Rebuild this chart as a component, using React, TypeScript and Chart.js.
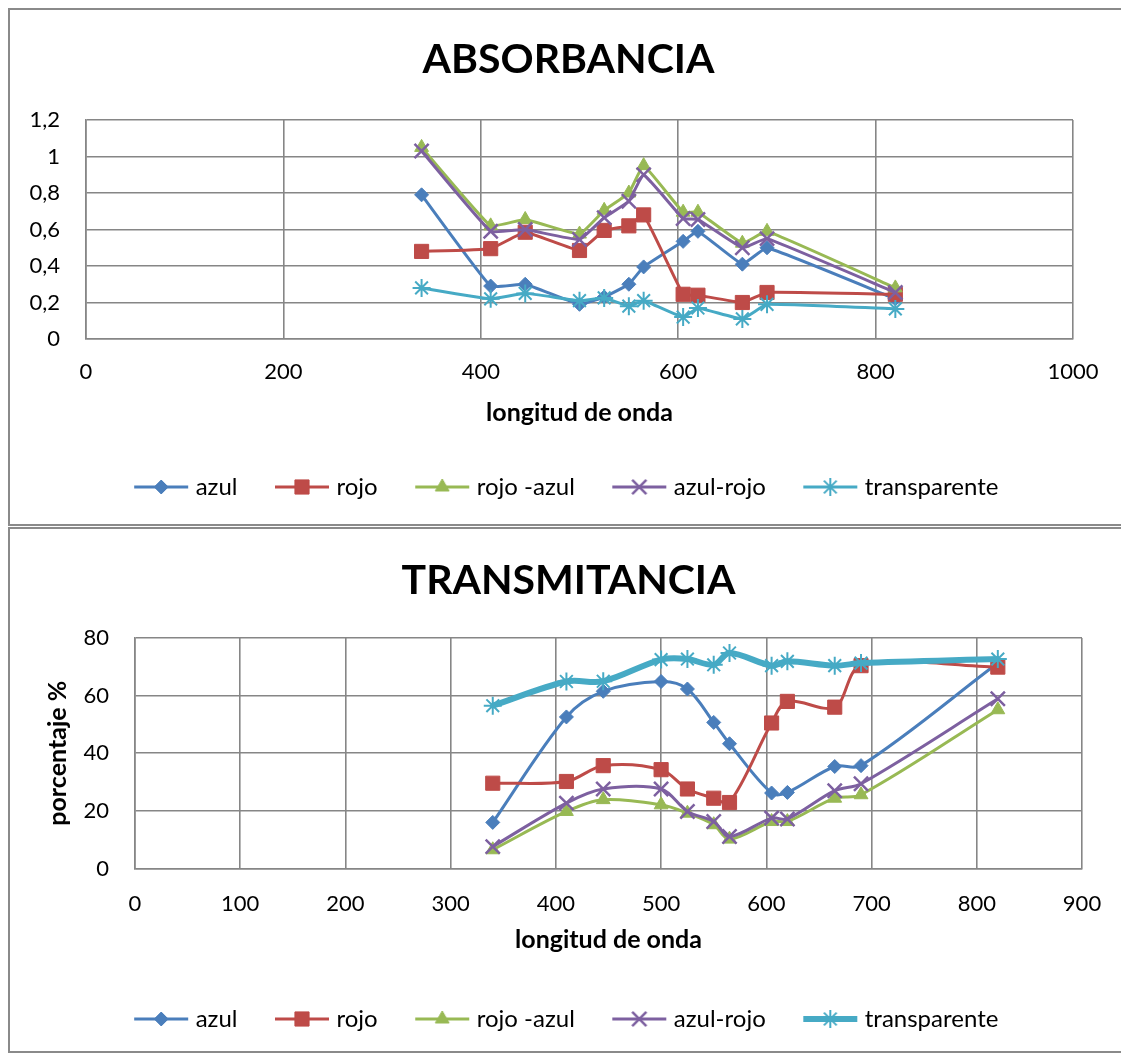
import React, { useEffect, useRef } from "react";
import { Chart, registerables } from "chart.js";

Chart.register(...registerables);

// ---------- DATA ----------
const wavelengths = [340, 410, 445, 500, 525, 550, 565, 605, 620, 665, 690, 820];
const seriesNames = ["azul", "rojo", "rojo -azul", "azul-rojo", "transparente"];

const absAzul = [0.79, 0.29, 0.3, 0.19, 0.23, 0.3, 0.395, 0.535, 0.59, 0.41, 0.5, 0.22];
const absRojo = [0.48, 0.495, 0.585, 0.485, 0.595, 0.62, 0.68, 0.245, 0.24, 0.2, 0.255, 0.245];
const absRojoAzul = [1.05, 0.62, 0.655, 0.575, 0.705, 0.8, 0.95, 0.695, 0.695, 0.525, 0.59, 0.28];
const absAzulRojo = [1.03, 0.59, 0.6, 0.545, 0.665, 0.755, 0.9, 0.66, 0.655, 0.5, 0.55, 0.255];
const absTransparente = [0.28, 0.22, 0.25, 0.21, 0.225, 0.18, 0.21, 0.12, 0.17, 0.11, 0.19, 0.165];

const trAzul = [16, 52.6, 61.5, 64.9, 62.3, 50.7, 43.3, 26.2, 26.4, 35.4, 35.7, 71.3];
const trRojo = [29.6, 30.2, 35.7, 34.3, 27.6, 24.4, 22.9, 50.5, 58, 56, 70.4, 69.9];
const trRojoAzul = [6.5, 19.8, 23.9, 22.1, 19.2, 15.2, 10.2, 16.3, 16.3, 24.4, 25.6, 55.1];
const trAzulRojo = [7.6, 22.7, 27.6, 27.6, 19.8, 16.3, 11.1, 17.5, 17.2, 27, 29.4, 58.9];
const trTransparente = [56.5, 64.9, 65, 72.5, 72.7, 70.7, 74.8, 70.4, 71.9, 70.4, 71.3, 72.7];

const absYTickLabels = ["0", "0,2", "0,4", "0,6", "0,8", "1", "1,2"];
const absXTickLabels = ["0", "200", "400", "600", "800", "1000"];
const trYTickLabels = ["0", "20", "40", "60", "80"];
const trXTickLabels = ["0", "100", "200", "300", "400", "500", "600", "700", "800", "900"];

// ---------- STYLE ----------
const FONT = "Lato";
const colors = ["#4A7EBB", "#BE4B48", "#98B954", "#7D60A0", "#46AAC5"];
const pointStyles = ["rectRot", "rect", "triangle", "crossRot", "star"];
const pointRadii = [7, 10, 8, 10, 9];
const pointBorders = [1, 1, 1, 2.5, 2];
const GRID = "#868686";

function drawMarker(ctx: CanvasRenderingContext2D, style: string, x: number, y: number, r: number, bw: number) {
  ctx.lineWidth = bw;
  ctx.beginPath();
  if (style === "rectRot") {
    ctx.moveTo(x, y - r); ctx.lineTo(x + r, y); ctx.lineTo(x, y + r); ctx.lineTo(x - r, y); ctx.closePath();
    ctx.fill(); ctx.stroke();
  } else if (style === "rect") {
    const s = r * Math.SQRT1_2;
    ctx.rect(x - s, y - s, 2 * s, 2 * s); ctx.fill(); ctx.stroke();
  } else if (style === "triangle") {
    for (let k = 0; k < 3; k++) {
      const a = (k * 2 * Math.PI) / 3;
      const px = x + Math.sin(a) * r, py = y - Math.cos(a) * r;
      if (k === 0) ctx.moveTo(px, py); else ctx.lineTo(px, py);
    }
    ctx.closePath(); ctx.fill(); ctx.stroke();
  } else if (style === "crossRot") {
    const o = r * Math.SQRT1_2;
    ctx.moveTo(x - o, y - o); ctx.lineTo(x + o, y + o);
    ctx.moveTo(x - o, y + o); ctx.lineTo(x + o, y - o); ctx.stroke();
  } else if (style === "star") {
    const o = r * Math.SQRT1_2;
    ctx.moveTo(x - o, y - o); ctx.lineTo(x + o, y + o);
    ctx.moveTo(x - o, y + o); ctx.lineTo(x + o, y - o);
    ctx.moveTo(x, y - r); ctx.lineTo(x, y + r);
    ctx.moveTo(x - r, y); ctx.lineTo(x + r, y); ctx.stroke();
  }
}

function legendImage(i: number, lineW: number) {
  const c = document.createElement("canvas");
  c.width = 56; c.height = 24;
  const ctx = c.getContext("2d")!;
  ctx.strokeStyle = colors[i]; ctx.fillStyle = colors[i];
  ctx.lineWidth = lineW;
  ctx.beginPath(); ctx.moveTo(1, 12); ctx.lineTo(55, 12); ctx.stroke();
  drawMarker(ctx, pointStyles[i], 28, 12, pointRadii[i], pointBorders[i]);
  return c;
}

type Cfg = {
  title: string;
  series: number[][];
  lineWidths: number[];
  tension: number;
  xMax: number; xStep: number; xLabels: string[];
  yMax: number; yStep: number; yLabels: string[];
  yTitle?: string;
  yAxisWidth: number; yTitlePad: number;
  titlePadTop: number; titlePadBottom: number;
  xTickPad: number; xAxisHeight: number; xTitlePadBottom: number;
  legendPad: number; padRight: number; padBottom: number;
};

function buildConfig(c: Cfg): any {
  const legendImgs = c.series.map((_, i) => legendImage(i, c.lineWidths[i]));
  return {
    type: "line",
    data: {
      datasets: c.series.map((vals, i) => ({
        label: seriesNames[i],
        data: wavelengths.map((x, k) => ({ x, y: vals[k] })),
        borderColor: colors[i],
        backgroundColor: colors[i],
        borderWidth: c.lineWidths[i],
        pointStyle: pointStyles[i],
        pointRadius: pointRadii[i],
        pointHoverRadius: pointRadii[i],
        pointBorderWidth: pointBorders[i],
        pointBackgroundColor: colors[i],
        pointBorderColor: colors[i],
        tension: c.tension,
        fill: false,
        order: c.series.length - i,
        yAxisID: "y",
      })),
    },
    options: {
      responsive: false,
      animation: false,
      events: [],
      layout: { padding: { top: 0, left: 0, right: 0, bottom: c.padBottom } },
      plugins: {
        tooltip: { enabled: false },
        title: {
          display: true,
          text: c.title,
          color: "#000",
          font: { family: FONT, size: 41, weight: "bold", lineHeight: 1.2 },
          padding: { top: c.titlePadTop, bottom: c.titlePadBottom },
        },
        legend: {
          display: true,
          position: "bottom",
          labels: {
            color: "#000",
            font: { family: FONT, size: 24 },
            usePointStyle: true,
            pointStyleWidth: 45,
            padding: c.legendPad,
            sort: (a: any, b: any) => a.datasetIndex - b.datasetIndex,
            generateLabels: (chart: any) => {
              const items = Chart.defaults.plugins.legend.labels.generateLabels(chart);
              items.forEach((it: any) => { it.pointStyle = legendImgs[it.datasetIndex]; });
              return items;
            },
          },
        },
      },
      scales: {
        x: {
          type: "linear",
          min: 0,
          max: c.xMax,
          ticks: {
            stepSize: c.xStep,
            color: "#000",
            font: { family: FONT, size: 22 },
            padding: c.xTickPad,
            maxRotation: 0,
            autoSkip: false,
            callback: (_v: any, idx: number) => c.xLabels[idx],
          },
          grid: { color: GRID, lineWidth: 1.6, drawTicks: false },
          border: { color: GRID, width: 1.6 },
          title: {
            display: true,
            text: "longitud de onda",
            color: "#000",
            font: { family: FONT, size: 25, weight: "bold", lineHeight: 1.2 },
            padding: { top: 0, bottom: c.xTitlePadBottom },
          },
          afterFit: (s: any) => { s.height = c.xAxisHeight; },
        },
        y: {
          min: 0,
          max: c.yMax,
          ticks: {
            stepSize: c.yStep,
            color: "#000",
            font: { family: FONT, size: 22 },
            padding: 26,
            callback: (_v: any, idx: number) => c.yLabels[idx],
          },
          grid: { color: GRID, lineWidth: 1.6, drawTicks: false },
          border: { color: GRID, width: 1.6 },
          title: c.yTitle
            ? {
                display: true,
                text: c.yTitle,
                color: "#000",
                font: { family: FONT, size: 25, weight: "bold", lineHeight: 1.2 },
                padding: { top: c.yTitlePad, bottom: 0 },
              }
            : { display: false },
          afterFit: (s: any) => { s.width = c.yAxisWidth; },
        },
        yRightSpace: {
          position: "right",
          display: true,
          grid: { display: false, drawTicks: false },
          border: { display: false },
          ticks: { display: false },
          afterFit: (s: any) => { s.width = c.padRight; },
        },
      },
    },
  };
}

function ChartBox({ cfg, width, height, boxHeight, top }: { cfg: Cfg; width: number; height: number; boxHeight: number; top: number }) {
  const ref = useRef<HTMLCanvasElement | null>(null);
  useEffect(() => {
    if (!ref.current) return;
    const chart = new Chart(ref.current, buildConfig(cfg));
    return () => chart.destroy();
  }, []);
  return (
    <div
      style={{
        position: "absolute",
        left: 0,
        top,
        width: 1121,
        height: boxHeight,
        boxSizing: "border-box",
        border: "2px solid #8a8a8a",
        background: "#fff",
      }}
    >
      <canvas ref={ref} width={width} height={height} style={{ display: "block" }} />
    </div>
  );
}

const absCfg: Cfg = {
  title: "ABSORBANCIA",
  series: [absAzul, absRojo, absRojoAzul, absAzulRojo, absTransparente],
  lineWidths: [3, 3, 3, 3, 3],
  tension: 0.1,
  xMax: 1000, xStep: 200, xLabels: absXTickLabels,
  yMax: 1.2, yStep: 0.2, yLabels: absYTickLabels,
  yAxisWidth: 76, yTitlePad: 0,
  titlePadTop: 25.4, titlePadBottom: 35.4,
  xTickPad: 20, xAxisHeight: 94, xTitlePadBottom: 5,
  legendPad: 42, padRight: 54, padBottom: 15,
};

const trCfg: Cfg = {
  title: "TRANSMITANCIA",
  series: [trAzul, trRojo, trRojoAzul, trAzulRojo, trTransparente],
  lineWidths: [3, 3, 3, 3, 6],
  tension: 0.33,
  xMax: 900, xStep: 100, xLabels: trXTickLabels,
  yMax: 80, yStep: 20, yLabels: trYTickLabels,
  yTitle: "porcentaje %",
  yAxisWidth: 125, yTitlePad: 33,
  titlePadTop: 27.4, titlePadBottom: 32.4,
  xTickPad: 22, xAxisHeight: 96.5, xTitlePadBottom: 10.5,
  legendPad: 42, padRight: 45, padBottom: 10,
};

export default function App() {
  useEffect(() => {
    Chart.defaults.font.family = FONT;
  }, []);
  return (
    <div style={{ position: "relative", width: 1121, height: 1045, fontFamily: FONT }}>
      <ChartBox cfg={absCfg} width={1117} height={514} boxHeight={518} top={0} />
      <ChartBox cfg={trCfg} width={1117} height={522} boxHeight={526} top={519} />
    </div>
  );
}
